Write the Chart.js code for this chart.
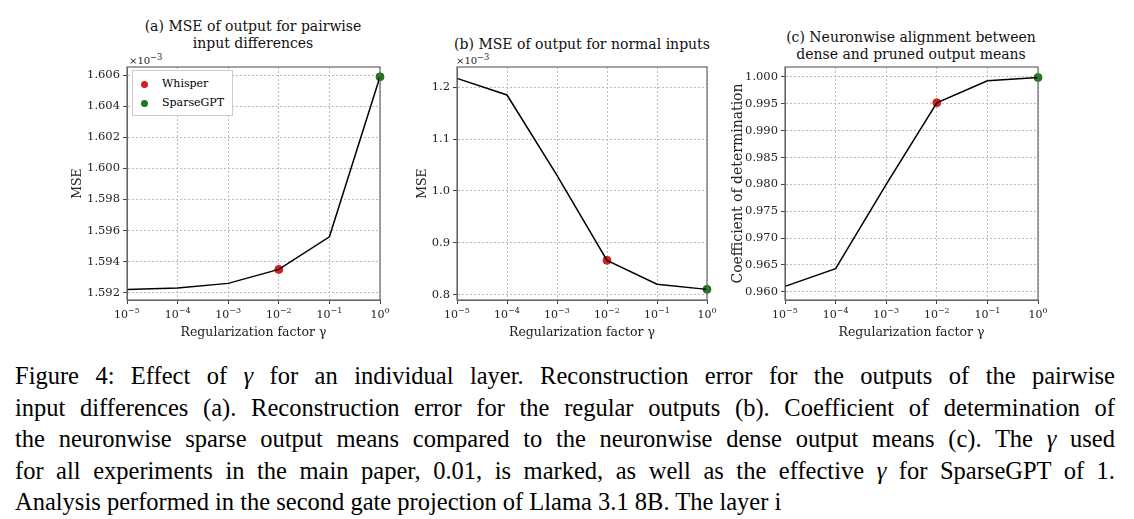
<!DOCTYPE html>
<html>
<head>
<meta charset="utf-8">
<script src="https://cdn.jsdelivr.net/npm/chart.js@4"></script>
<style>
body { margin:0; background:#fff; width:1134px; height:519px; position:relative; overflow:hidden; font-family:"DejaVu Serif", serif; }
canvas { position:absolute; top:0; }
.t { position:absolute; font-size:14px; text-align:center; line-height:17px; color:#111; white-space:nowrap; }
.e { position:absolute; font-size:10px; color:#222; }
.leg { position:absolute; left:132px; top:70px; border:1px solid #ccc; background:#fff; font-size:11px; padding:3px 8px; line-height:19px; }
.dot { display:inline-block; width:7px; height:7px; border-radius:50%; margin-right:14px; vertical-align:middle; }
#cap { position:absolute; left:15px; top:360px; width:1100px; font-family:"Liberation Serif", serif; font-size:24.5px; line-height:31.5px; color:#000; }
#cap div { text-align:justify; text-align-last:justify; white-space:nowrap; }
#cap div.l { text-align-last:left; }
</style>
</head>
<body>
<div class="t" style="left:128px;width:250px;top:18px">(a) MSE of output for pairwise<br>input differences</div>
<div class="t" style="left:432px;width:300px;top:36px">(b) MSE of output for normal inputs</div>
<div class="t" style="left:776px;width:270px;top:29px">(c) Neuronwise alignment between<br>dense and pruned output means</div>
<div class="e" style="left:129px;top:52px">×10<sup>−3</sup></div>
<div class="e" style="left:456px;top:52px">×10<sup>−3</sup></div>
<canvas id="ca"></canvas>
<canvas id="cb"></canvas>
<canvas id="cc"></canvas>
<div class="leg"><span class="dot" style="background:#d62020"></span>Whisper<br><span class="dot" style="background:#1a7a1a"></span>SparseGPT</div>
<div id="cap">
<div>Figure 4: Effect of <i>γ</i> for an individual layer. Reconstruction error for the outputs of the pairwise</div>
<div>input differences (a). Reconstruction error for the regular outputs (b). Coefficient of determination of</div>
<div>the neuronwise sparse output means compared to the neuronwise dense output means (c). The <i>γ</i> used</div>
<div>for all experiments in the main paper, 0.01, is marked, as well as the effective <i>γ</i> for SparseGPT of 1.</div>
<div class="l">Analysis performed in the second gate projection of Llama 3.1 8B. The layer i</div>
</div>
<script>
// valores
const gammas = [1e-5, 1e-4, 1e-3, 1e-2, 1e-1, 1];
const mseParDif = [1.5922, 1.5923, 1.5926, 1.5935, 1.5956, 1.6059];   // x 10^-3
const mseNormal = [1.217, 1.185, 1.030, 0.866, 0.820, 0.810];         // x 10^-3
const r2Neuron = [0.9610, 0.9643, 0.9800, 0.9952, 0.9993, 0.9999];
const ticksA = [1.592, 1.594, 1.596, 1.598, 1.600, 1.602, 1.604, 1.606];
const ticksB = [0.8, 0.9, 1.0, 1.1, 1.2];
const ticksC = [0.960, 0.965, 0.970, 0.975, 0.980, 0.985, 0.990, 0.995, 1.000];
const whisperGamma = 0.01, sparseGamma = 1;

// moldura + rotulos 10^n desenhados a mao
const frame = {
  id: 'frame',
  afterDraw(chart) {
    const a = chart.chartArea, c = chart.ctx, sx = chart.scales.x;
    c.save(); c.strokeStyle = '#666'; c.lineWidth = 1.2;
    c.strokeRect(a.left, a.top, a.right - a.left, a.bottom - a.top);
    c.fillStyle = '#222'; c.textBaseline = 'alphabetic';
    gammas.forEach(g => {
      const e = String(Math.round(Math.log10(g))).replace('-', '−');
      const px = sx.getPixelForValue(g);
      c.font = '11px "DejaVu Serif"'; const w1 = c.measureText('10').width;
      c.font = '8px "DejaVu Serif"'; const w2 = c.measureText(e).width;
      const x0 = px - (w1 + w2) / 2, y0 = a.bottom + 18;
      c.font = '11px "DejaVu Serif"'; c.textAlign = 'left'; c.fillText('10', x0, y0);
      c.font = '8px "DejaVu Serif"'; c.fillText(e, x0 + w1, y0 - 5);
    });
    c.restore();
  }
};

function fazer(id, left, width, padLeft, yWidth, padRight, vals, ticks, ymin, ymax, dec, ytitle, ytitleSize) {
  const el = document.getElementById(id);
  el.style.left = left + 'px';
  el.style.width = width + 'px'; el.style.height = '340px';
  const iw = gammas.indexOf(whisperGamma), is = gammas.indexOf(sparseGamma);
  new Chart(el, {
    type: 'line',
    data: {
      datasets: [
        { data: gammas.map((g, i) => ({ x: g, y: vals[i] })), borderColor: '#000', borderWidth: 1.5, pointRadius: 0, tension: 0, clip: false },
        { data: [{ x: whisperGamma, y: vals[iw] }], pointRadius: 4, pointBackgroundColor: '#d62020', pointBorderColor: '#d62020', showLine: false, clip: false },
        { data: [{ x: sparseGamma, y: vals[is] }], pointRadius: 4, pointBackgroundColor: '#1a7a1a', pointBorderColor: '#1a7a1a', showLine: false, clip: false }
      ]
    },
    options: {
      responsive: false, animation: false,
      layout: { padding: { left: padLeft, right: padRight, top: 67, bottom: 0 } },
      plugins: { legend: { display: false }, tooltip: { enabled: false } },
      scales: {
        x: {
          type: 'logarithmic', min: 1e-5, max: 1,
          afterBuildTicks: s => { s.ticks = gammas.map(v => ({ value: v })); },
          afterFit: s => { s.height = 40; },
          ticks: { callback: () => '', maxRotation: 0 },
          grid: { color: '#bbb', tickColor: '#444', tickLength: 4 },
          border: { dash: [2, 2], color: '#666' },
          title: { display: true, text: 'Regularization factor γ', color: '#222', font: { family: 'DejaVu Serif', size: 12.5 }, padding: 0 }
        },
        y: {
          min: ymin, max: ymax,
          afterBuildTicks: s => { s.ticks = ticks.map(v => ({ value: v })); },
          afterFit: s => { s.width = yWidth; },
          ticks: { callback: v => v.toFixed(dec), color: '#222', font: { family: 'DejaVu Serif', size: 11.5 }, padding: 3 },
          grid: { color: '#bbb', tickColor: '#444', tickLength: 4 },
          border: { dash: [2, 2], color: '#666' },
          title: { display: true, text: ytitle, color: '#222', font: { family: 'DejaVu Serif', size: ytitleSize }, padding: 0 }
        }
      }
    },
    plugins: [frame]
  });
}

fazer('ca', 0, 400, 70, 57, 20, mseParDif, ticksA, 1.59153, 1.60653, 3, 'MSE', 12.5);
fazer('cb', 400, 330, 15, 42, 23, mseNormal, ticksB, 0.7895, 1.239, 1, 'MSE', 12.5);
fazer('cc', 730, 320, 0, 55, 12, r2Neuron, ticksC, 0.95846, 1.00186, 3, 'Coefficient of determination', 14);
</script>
</body>
</html>
